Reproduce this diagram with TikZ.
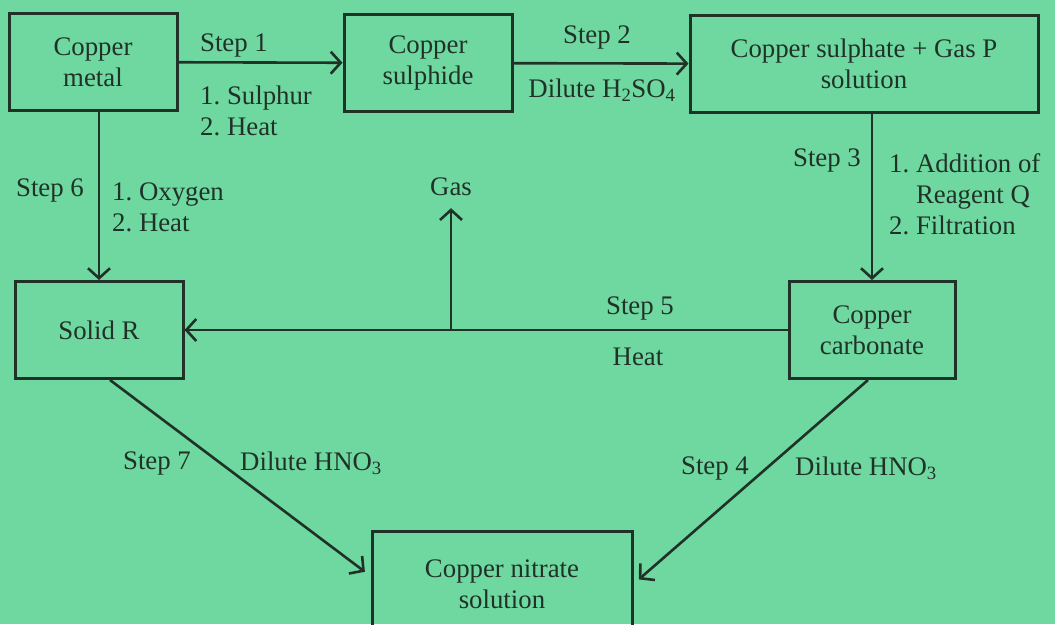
\documentclass[tikz,border=0pt]{standalone}
\usepackage{fontspec}
\setmainfont{Liberation Serif}
\usepackage{xcolor}
\definecolor{cgreen}{RGB}{110,216,160}
\definecolor{cink}{RGB}{32,50,40}
\usetikzlibrary{arrows.meta,positioning}
\frenchspacing

\begin{document}
\begin{tikzpicture}[
  x=1pt,y=-1pt,
  box/.style={draw=cink,line width=3pt,minimum width=168pt,minimum height=97pt,
    inner sep=0pt,align=center,text=cink},
  lbl/.style={inner sep=0pt,text=cink,align=left},
  arr/.style={-{Straight Barb[length=10pt,width=22pt]},line width=2.6pt,draw=cink},
  font=\fontsize{26.8}{31}\selectfont
]
  % Background
  \fill[cgreen] (0,0) rectangle (1055,624);
  \useasboundingbox (0,0) rectangle (1055,624);
  % Boxes
  \node[box] (metal) at (93,62) {Copper\\metal};
  \node[box] (sulphide) at (428,63) {Copper\\sulphide};
  \node[box,minimum width=348pt] (sulphate) at (864,64) {Copper sulphate + Gas P\\solution};
  \node[box,minimum width=166pt] (carbonate) at (872,330) {Copper\\carbonate};
  \node[box] (solid) at (99,330) {Solid R};
  \node[box,minimum width=260pt,minimum height=106pt] (nitrate) at (502,584) {Copper nitrate\\solution};
  % Arrows
  \draw[arr] (metal) -- (sulphide);
  \draw[arr] (sulphide) -- (sulphate);
  \draw[arr] (sulphate.south -| carbonate.north) -- (carbonate.north);
  \draw[arr] (solid.north |- metal.south) -- (solid.north);
  \draw[arr] (carbonate) -- (solid);
  \node[lbl] (gas) at (451,187) {Gas};
  \coordinate (split) at (gas |- solid);
  \draw[arr] (split) -- ([yshift=-12pt]gas.south);
  \draw[arr,shorten >=7pt] ([xshift=11pt]solid.south) -- ([yshift=8pt]nitrate.west);
  \draw[arr,shorten >=7pt] ([xshift=-4pt]carbonate.south) -- (nitrate.east);
  % Step labels
  \node[lbl] (s1) at (234,45) {Step 1};
  \node[lbl,anchor=west] (s1c) at (200,111) {1. Sulphur\\2. Heat};
  \node[lbl] (s2) at (597,37) {Step 2};
  \node[lbl] (s2c) at (602,90) {Dilute H\textsubscript{2}SO\textsubscript{4}};
  \node[lbl] (s3) at (827,160) {Step 3};
  \node[lbl,anchor=west] (s3c) at (889,194) {1. Addition of\\\phantom{1. }Reagent Q\\2. Filtration};
  \node[lbl] (s6) at (50,190) {Step 6};
  \node[lbl,anchor=west] (s6c) at (112,207) {1. Oxygen\\2. Heat};
  \node[lbl] (s5) at (640,308) {Step 5};
  \node[lbl] (s5c) at (638,357) {Heat};
  \node[lbl] (s7) at (157,463) {Step 7};
  \node[lbl,anchor=west] (s7c) at (240,463) {Dilute HNO\textsubscript{3}};
  \node[lbl] (s4) at (715,468) {Step 4};
  \node[lbl,anchor=west] (s4c) at (795,468) {Dilute HNO\textsubscript{3}};
\end{tikzpicture}
\end{document}
